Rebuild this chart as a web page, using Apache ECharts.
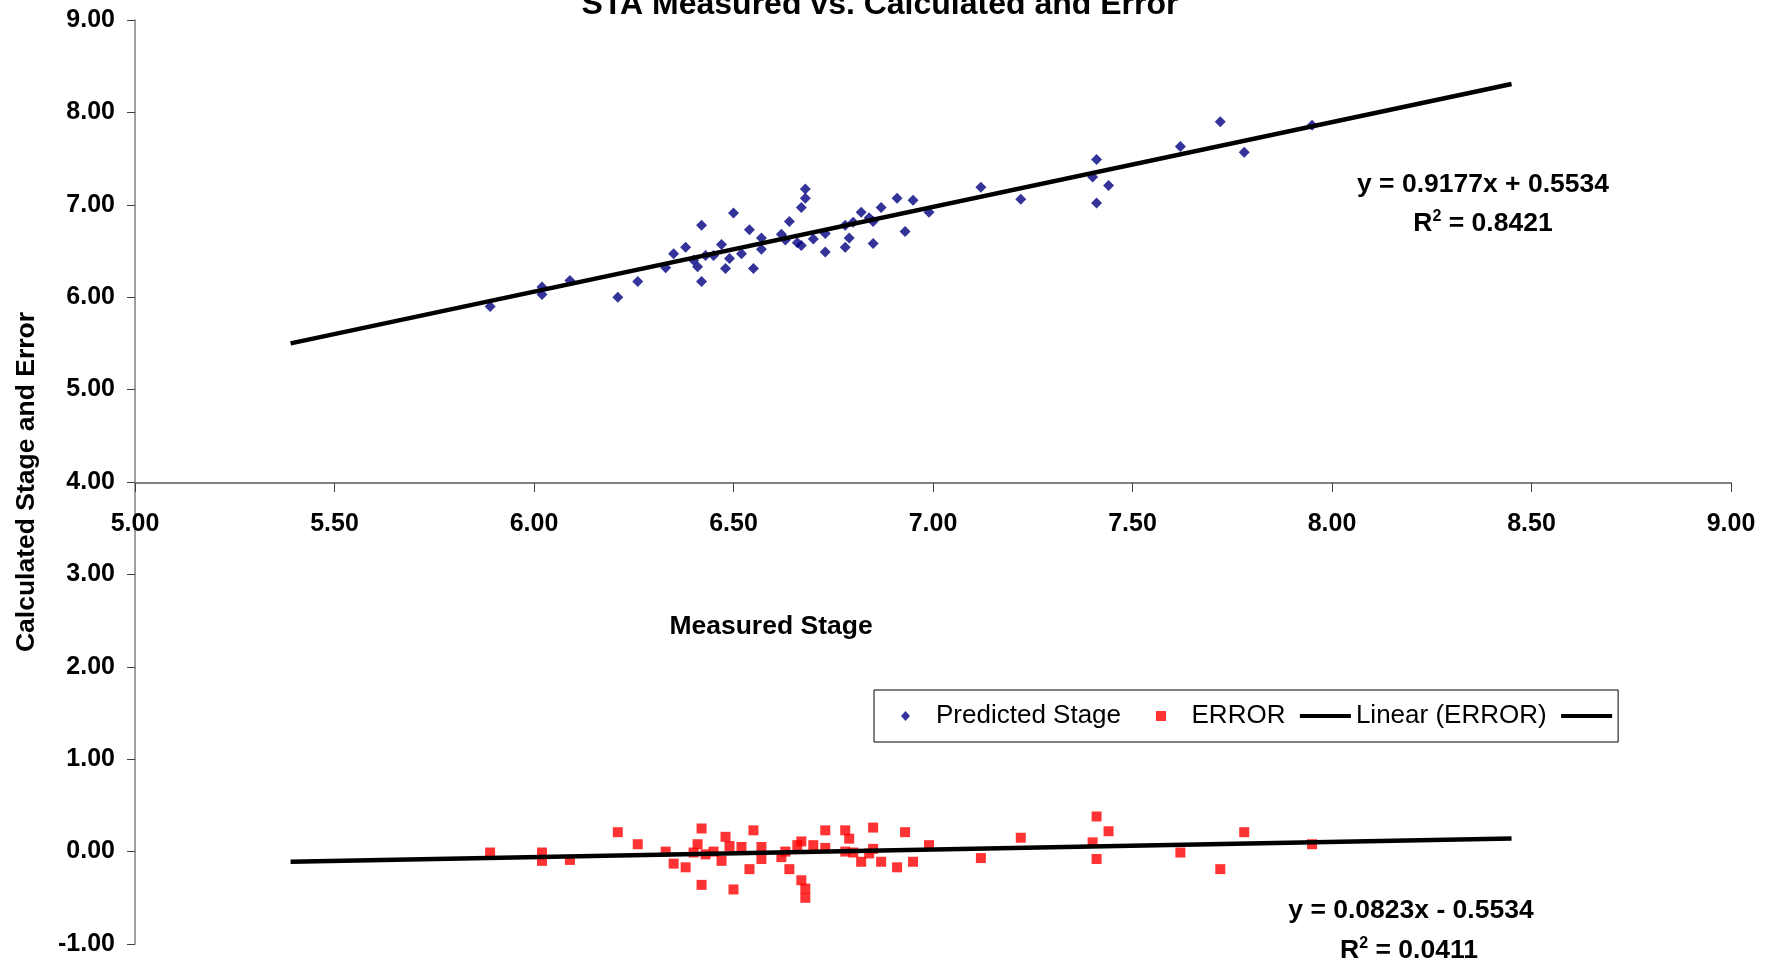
<!DOCTYPE html>
<html>
<head>
<meta charset="utf-8">
<script src="https://cdn.jsdelivr.net/npm/echarts@6/dist/echarts.min.js"></script>
<style>
html,body{margin:0;padding:0;background:#fff;}
#chart{width:1778px;height:964px;}
</style>
</head>
<body>
<div id="chart"></div>
<script>
// ---- data ----
const measuredStage = [5.89, 6.02, 6.02, 6.09, 6.21, 6.26, 6.33, 6.35, 6.38, 6.40,
  6.41, 6.42, 6.42, 6.43, 6.45, 6.47, 6.48, 6.49, 6.50, 6.52,
  6.54, 6.55, 6.57, 6.57, 6.62, 6.63, 6.64, 6.66, 6.67, 6.67,
  6.68, 6.68, 6.70, 6.73, 6.73, 6.78, 6.78, 6.79, 6.80, 6.82,
  6.84, 6.85, 6.85, 6.87, 6.91, 6.93, 6.95, 6.99, 7.12, 7.22,
  7.41, 7.40, 7.44, 7.41, 7.62, 7.72, 7.78, 7.95];
const predictedStage = [5.90, 6.11, 6.03, 6.18, 6.00, 6.17, 6.32, 6.47, 6.54, 6.40,
  6.33, 6.78, 6.17, 6.45, 6.45, 6.57, 6.31, 6.42, 6.91, 6.47,
  6.73, 6.31, 6.64, 6.52, 6.68, 6.62, 6.82, 6.59, 6.97, 6.56,
  7.17, 7.07, 6.63, 6.69, 6.49, 6.78, 6.54, 6.64, 6.81, 6.92,
  6.86, 6.82, 6.58, 6.97, 7.07, 6.71, 7.05, 6.92, 7.19, 7.06,
  7.49, 7.30, 7.21, 7.02, 7.63, 7.90, 7.57, 7.86];
const errorValues = [-0.01, -0.10, -0.01, -0.09, 0.21, 0.08, 0.00, -0.13, -0.17, -0.01,
  0.08, -0.36, 0.25, -0.03, 0.00, -0.10, 0.16, 0.06, -0.41, 0.05,
  -0.19, 0.23, -0.08, 0.05, -0.06, 0.00, -0.19, 0.07, -0.31, 0.11,
  -0.50, -0.40, 0.07, 0.04, 0.23, 0.00, 0.23, 0.14, -0.01, -0.11,
  -0.02, 0.03, 0.26, -0.11, -0.17, 0.21, -0.11, 0.07, -0.07, 0.15,
  -0.08, 0.10, 0.22, 0.38, -0.01, -0.19, 0.21, 0.08];
// trendline equations shown in the chart
const predTrend = {slope: 0.9177, intercept: 0.5534, r2: '0.8421'};
const errTrend = {slope: 0.0823, intercept: -0.5534, r2: '0.0411'};
const trendRange = [5.39, 8.45];
// axis ticks
const xTicks = [5.0, 5.5, 6.0, 6.5, 7.0, 7.5, 8.0, 8.5, 9.0];
const yTicks = [-1, 0, 1, 2, 3, 4, 5, 6, 7, 8, 9];
const seriesNames = ['Predicted Stage', 'ERROR', 'Linear (ERROR)', 'Linear (Predicted Stage)'];

const FONT = '"Liberation Sans", Arial, sans-serif';
const fmt = v => Number(v).toFixed(2);
const trendPts = t => trendRange.map(x => [x, t.slope * x + t.intercept]);

// legend icons padded to the full 51x10 symbol box (Excel style)
const ICON_DIAMOND = 'path://M0,0 L0,0 M51,10 L51,10 M25.5,0 L30,5 L25.5,10 L21,5 Z';
const ICON_SQUARE = 'path://M0,0 L0,0 M51,10 L51,10 M20.5,0 L30.5,0 L30.5,10 L20.5,10 Z';
const ICON_LINE = 'path://M0,0 L0,0 M51,10 L51,10 M0,3 L51,3 L51,7 L0,7 Z';

function rTwo(r2) {
  return '{a|R}{s|2}{a| = ' + r2 + '}';
}
const richEq = {
  a: {fontFamily: FONT, fontSize: 26.5, fontWeight: 'bold', color: '#000', lineHeight: 28, verticalAlign: 'bottom'},
  s: {fontFamily: FONT, fontSize: 16, fontWeight: 'bold', color: '#000', lineHeight: 28, verticalAlign: 'top'}
};

const chart = echarts.init(document.getElementById('chart'), null, {renderer: 'canvas'});
const option = {
  backgroundColor: '#ffffff',
  animation: false,
  textStyle: {fontFamily: FONT},
  grid: [
    {left: 135, right: 47, top: 20, bottom: 20},
    {left: 135, right: 47, top: 20, bottom: 481}
  ],
  xAxis: [
    {gridIndex: 0, type: 'value', min: xTicks[0], max: xTicks[xTicks.length - 1], show: false},
    {gridIndex: 1, type: 'value', min: xTicks[0], max: xTicks[xTicks.length - 1], interval: xTicks[1] - xTicks[0],
      axisLine: {show: true, onZero: false, lineStyle: {color: '#808080', width: 2}},
      axisTick: {show: true, length: 9, lineStyle: {color: '#404040', width: 1}},
      axisLabel: {formatter: fmt, fontFamily: FONT, fontSize: 25, fontWeight: 'bold', color: '#000', margin: 29},
      splitLine: {show: false}}
  ],
  yAxis: [
    {gridIndex: 0, type: 'value', min: yTicks[0], max: yTicks[yTicks.length - 1], interval: yTicks[1] - yTicks[0],
      name: 'Calculated Stage and Error', nameLocation: 'middle', nameGap: 95, nameRotate: 90,
      nameTextStyle: {fontFamily: FONT, fontSize: 26.5, fontWeight: 'bold', color: '#000'},
      axisLine: {show: true, lineStyle: {color: '#808080', width: 1.5}},
      axisTick: {show: true, length: 8, lineStyle: {color: '#404040', width: 1}},
      axisLabel: {formatter: fmt, fontFamily: FONT, fontSize: 25, fontWeight: 'bold', color: '#000', margin: 20},
      splitLine: {show: false}},
    {gridIndex: 1, type: 'value', min: 0, max: 1, show: false}
  ],
  legend: {
    left: 874, top: 690, orient: 'horizontal',
    padding: [13, 6, 13, 6],
    itemWidth: 51, itemHeight: 10, itemGap: 14.5,
    backgroundColor: '#fff', borderColor: '#000', borderWidth: 1,
    textStyle: {fontFamily: FONT, fontSize: 26, color: '#000'},
    formatter: name => (name === seriesNames[3] ? '' : name),
    data: [
      {name: seriesNames[0], icon: ICON_DIAMOND},
      {name: seriesNames[1], icon: ICON_SQUARE},
      {name: seriesNames[2], icon: ICON_LINE},
      {name: seriesNames[3], icon: ICON_LINE}
    ]
  },
  series: [
    {name: seriesNames[0], type: 'scatter', xAxisIndex: 0, yAxisIndex: 0,
      symbol: 'diamond', symbolSize: 11, itemStyle: {color: '#000080'},
      data: measuredStage.map((x, i) => [x, predictedStage[i]])},
    {name: seriesNames[1], type: 'scatter', xAxisIndex: 0, yAxisIndex: 0,
      symbol: 'rect', symbolSize: 10, itemStyle: {color: '#ff0000'},
      data: measuredStage.map((x, i) => [x, errorValues[i]])},
    {name: seriesNames[2], type: 'line', xAxisIndex: 0, yAxisIndex: 0, symbol: 'none',
      lineStyle: {color: '#000', width: 4.5}, itemStyle: {color: '#000'},
      data: trendPts(errTrend)},
    {name: seriesNames[3], type: 'line', xAxisIndex: 0, yAxisIndex: 0, symbol: 'none',
      lineStyle: {color: '#000', width: 4.5}, itemStyle: {color: '#000'},
      data: trendPts(predTrend)}
  ],
  graphic: [
    {type: 'text', x: 880, y: 5, style: {text: 'STA Measured vs. Calculated and Error', font: 'bold 32px ' + FONT, fill: '#000', textAlign: 'center', textVerticalAlign: 'middle'}},
    {type: 'text', x: 771, y: 627, style: {text: 'Measured Stage', font: 'bold 26.5px ' + FONT, fill: '#000', textAlign: 'center', textVerticalAlign: 'middle'}},
    {type: 'text', x: 1483, y: 185, style: {text: 'y = 0.9177x + 0.5534', font: 'bold 26.5px ' + FONT, fill: '#000', textAlign: 'center', textVerticalAlign: 'middle'}},
    {type: 'text', x: 1483, y: 223, style: {text: rTwo(predTrend.r2), rich: richEq, textAlign: 'center', textVerticalAlign: 'middle'}},
    {type: 'text', x: 1411, y: 911, style: {text: 'y = 0.0823x - 0.5534', font: 'bold 26.5px ' + FONT, fill: '#000', textAlign: 'center', textVerticalAlign: 'middle'}},
    {type: 'text', x: 1409, y: 950, style: {text: rTwo(errTrend.r2), rich: richEq, textAlign: 'center', textVerticalAlign: 'middle'}}
  ]
};
chart.setOption(option);
</script>
</body>
</html>
